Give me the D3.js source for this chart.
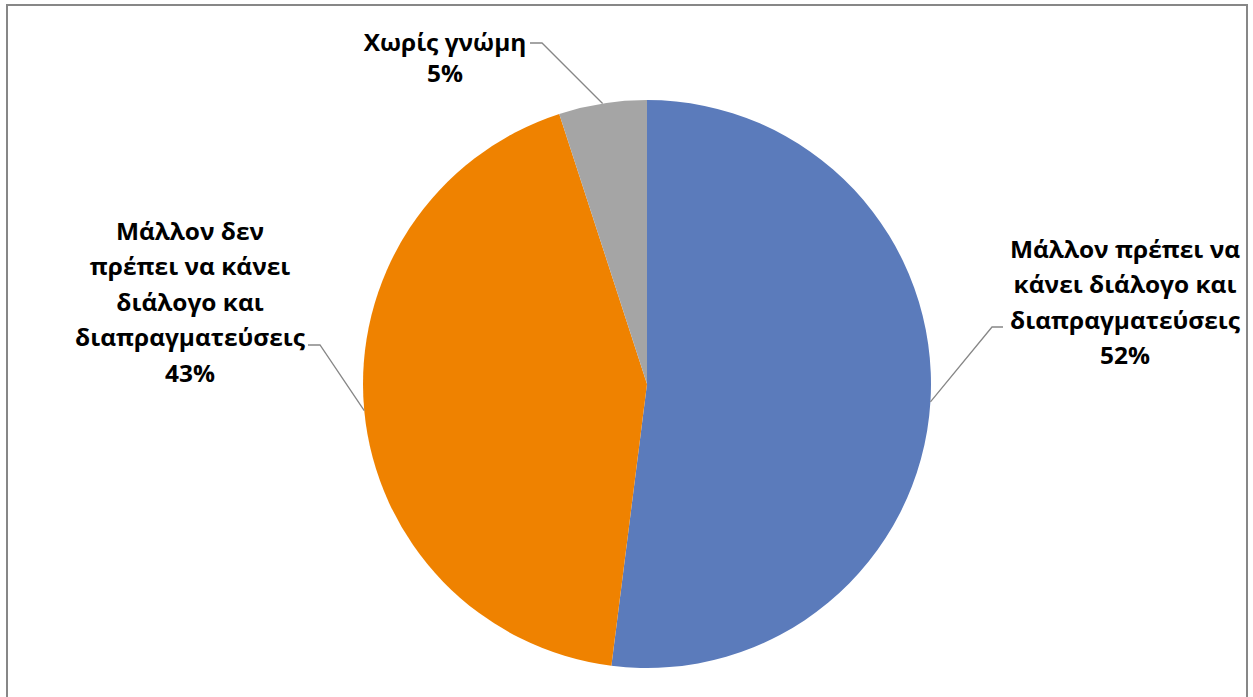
<!DOCTYPE html>
<html>
<head>
<meta charset="utf-8">
<script src="https://cdn.jsdelivr.net/npm/d3@7"></script>
<style>
  body { margin: 0; background: #fff; }
  svg text { font-family: "Open Sans", "Noto Sans", sans-serif; font-weight: bold; fill: #000; }
</style>
</head>
<body>
<div id="chart"></div>
<script>
// data
const categories = ["Μάλλον πρέπει να κάνει διάλογο και διαπραγματεύσεις",
                    "Μάλλον δεν πρέπει να κάνει διάλογο και διαπραγματεύσεις",
                    "Χωρίς γνώμη"];
const values = [52, 43, 5];
const labelLines = [
    ["Μάλλον πρέπει να", "κάνει διάλογο και", "διαπραγματεύσεις"],
    ["Μάλλον δεν", "πρέπει να κάνει", "διάλογο και", "διαπραγματεύσεις"],
    ["Χωρίς γνώμη"]
];
const colors = ["#5b7bbb", "#ef8200", "#a5a5a5"];

const size = { width: 1253, height: 697 };
const center = { x: 647, y: 384 };
const radius = 284;

// label layout: centre x, first line y, where the leader ends
const labelPos = [
    { x: 1125, y: 248, elbow: [1003, 327], side: "left" },
    { x: 190, y: 230, elbow: [308, 345], side: "right" },
    { x: 445, y: 41, elbow: [530, 43], side: "right" }
];

const svg = d3.select("#chart")
              .append("svg")
              .attr("width", size.width)
              .attr("height", size.height);

// chart frame
svg.append("rect")
   .attr("x", 7)
   .attr("y", 5)
   .attr("width", 1240)
   .attr("height", 720)
   .attr("fill", "none")
   .attr("stroke", "#878787")
   .attr("stroke-width", 2);

const pie = d3.pie().sort(null).value(d => d);
const arcs = pie(values);
const arc = d3.arc().innerRadius(0).outerRadius(radius);

const g = svg.append("g")
             .attr("transform", `translate(${center.x}, ${center.y})`);

g.selectAll("path")
 .data(arcs)
 .enter()
 .append("path")
 .attr("d", arc)
 .attr("fill", (d, i) => colors[i]);

// leader lines
arcs.forEach((d, i) => {
    const mid = (d.startAngle + d.endAngle) / 2;
    const px = center.x + radius * Math.sin(mid);
    const py = center.y - radius * Math.cos(mid);
    const p = labelPos[i];
    const hx = p.side === "left" ? p.elbow[0] - 11 : p.elbow[0] + 12;
    svg.append("polyline")
       .attr("points", `${px},${py} ${hx},${p.elbow[1]} ${p.elbow[0]},${p.elbow[1]}`)
       .attr("fill", "none")
       .attr("stroke", "#878787")
       .attr("stroke-width", 1.3);
});

// labels: taller glyphs, squeezed horizontally to a Calibri-like width
const fontSize = 23.5;
const probe = svg.append("text").attr("font-size", fontSize + "px").text("διαπραγματεύσεις");
const sx = 230 / probe.node().getComputedTextLength();
probe.remove();

arcs.forEach((d, i) => {
    const p = labelPos[i];
    const t = svg.append("text")
                 .attr("text-anchor", "middle")
                 .attr("font-size", fontSize + "px")
                 .attr("dominant-baseline", "central")
                 .attr("transform", `translate(${p.x}, ${p.y}) scale(${sx}, 1)`);
    const lines = labelLines[i].concat([values[i] + "%"]);
    const lh = i === 2 ? 31 : 35.5;
    lines.forEach((ln, k) => {
        t.append("tspan")
         .attr("x", 0)
         .attr("y", k * lh)
         .text(ln);
    });
});
</script>
</body>
</html>
